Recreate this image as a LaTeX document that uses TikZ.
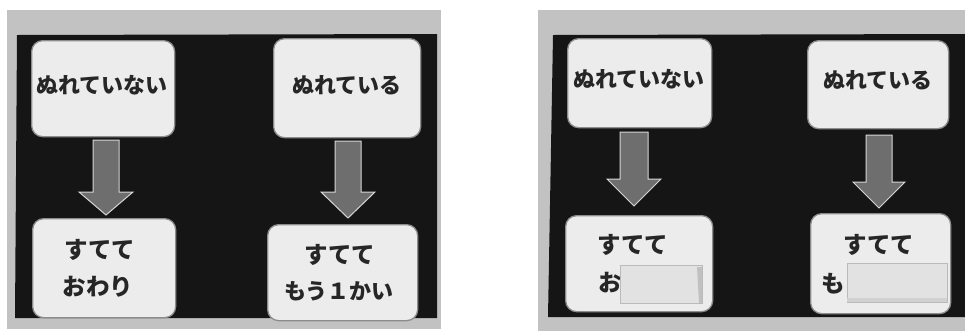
\documentclass[tikz,border=0pt]{standalone}
\usepackage{fontspec}
\newfontfamily\jp{Noto Sans CJK JP}
\usetikzlibrary{positioning}

\definecolor{pagebg}{HTML}{FFFFFF}
\definecolor{mount}{HTML}{C2C2C2}
\definecolor{board}{HTML}{151515}
\definecolor{card}{HTML}{ECECEC}
\definecolor{cardedge}{HTML}{8C8C8C}
\definecolor{arrowfill}{HTML}{6E6E6E}
\definecolor{arrowedge}{HTML}{D6D6D6}
\definecolor{strip}{HTML}{E2E2E2}
\definecolor{ink}{HTML}{262626}

\tikzset{
  cardbox/.style={draw=cardedge, line width=1.3pt, fill=card, rounded corners=11pt,
    inner sep=0pt, anchor=north west},
  word/.style={font=\jp\bfseries\fontsize{22}{22}\selectfont, text=ink, inner sep=0pt},
  bigword/.style={word, font=\jp\bfseries\fontsize{23.5}{23.5}\selectfont},
  bigarrow/.style={fill=arrowfill, draw=arrowedge, line width=1pt, line join=miter},
  paper/.style={fill=strip, draw=cardedge!60, line width=0.6pt},
}

% down-pointing block arrow: centre x, top y, neck y, tip y, shaft half width, head half width
\newcommand\blockdown[6]{%
  \draw[bigarrow] (#1-#5,#2) -- (#1+#5,#2) -- (#1+#5,#3) -- (#1+#6,#3)
    -- (#1,#4) -- (#1-#6,#3) -- (#1-#5,#3) -- cycle;}

\begin{document}
\begin{tikzpicture}[x=1pt,y=-1pt]
\useasboundingbox (0,0) rectangle (965,333);
\fill[pagebg] (0,0) rectangle (965,333);

% ---------- first photo: full labels ----------
\fill[mount] (7,10) rectangle (441,329);
\fill[board] (17,35) -- (437,34) -- (437,318) -- (15,318) -- cycle;

\node[cardbox, minimum width=143pt, minimum height=96pt] (a1) at (31,40) {};
\node[cardbox, minimum width=147pt, minimum height=99pt] (a2) at (273,38) {};
\node[cardbox, minimum width=143pt, minimum height=99pt] (a3) at (32,218) {};
\node[cardbox, minimum width=150pt, minimum height=96pt] (a4) at (267,224) {};

\node[word] (a1t) at (102,85) {ぬれていない};
\node[word] (a2t) at (347,85) {ぬれている};
\node[bigword] (a3t) at (100,250) {すてて};
\node[bigword] (a3u) at (98,287) {おわり};
\node[bigword] (a4t) at (340,255) {すてて};
\node[word] (a4u) at (339,291) {もう１かい};

\blockdown{106}{140}{192}{215}{13}{27}
\blockdown{348}{141}{192}{218}{13}{27}

% ---------- second photo: endings covered ----------
\fill[mount] (538,10) rectangle (965,331);
\fill[board] (553,35) -- (965,34) -- (965,317) -- (548,317) -- cycle;

\node[cardbox, minimum width=144pt, minimum height=89pt] (b1) at (567,38) {};
\node[cardbox, minimum width=141pt, minimum height=88pt] (b2) at (807,40) {};
\node[cardbox, minimum width=147pt, minimum height=96pt] (b3) at (565,215) {};
\node[cardbox, minimum width=140pt, minimum height=100pt] (b4) at (810,213) {};

\node[word] (b1t) at (639,79) {ぬれていない};
\node[word] (b2t) at (878,80) {ぬれている};
\node[bigword] (b3t) at (633,245) {すてて};
\node[bigword] (b3u) at (610,283) {お};
\node[bigword] (b4t) at (879,245) {すてて};
\node[bigword] (b4u) at (833,284) {も};

% paper slips hiding the rest of each word
\draw[paper] (620,265) rectangle (702,303);
\fill[cardedge!55] (697,267) -- (702,267) -- (702,303) -- (699,303) -- cycle;
\draw[paper] (847,263) rectangle (947,302);
\fill[cardedge!40] (847,298) rectangle (947,302);

\blockdown{634}{132}{179}{206}{14}{27}
\blockdown{879}{135}{182}{208}{13}{26}
\end{tikzpicture}
\end{document}
